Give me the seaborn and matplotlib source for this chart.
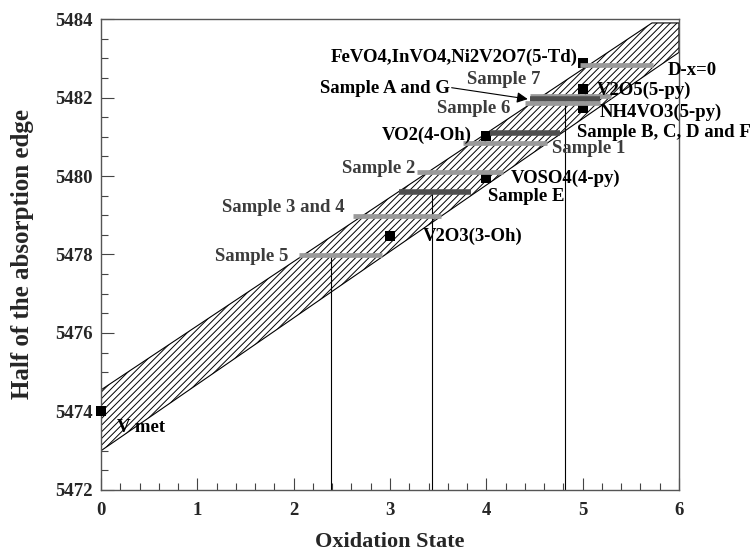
import matplotlib
matplotlib.use("Agg")
import matplotlib.pyplot as plt
import seaborn as sns
import pandas as pd

# ---------------- data ----------------
# hatched correlation band (oxidation state vs edge position)
band_x = [0.0, 5.72, 6.0]
band_upper = [5474.55, 5483.9, 5483.9]
band_lower = [5473.0, 5482.68, 5483.15]

# reference compounds (black squares)
ref_names = ["V met", "V2O3(3-Oh)", "VO2(4-Oh)", "VOSO4(4-py)",
             "FeVO4,InVO4,Ni2V2O7(5-Td)", "V2O5(5-py)", "NH4VO3(5-py)"]
ref_x = [0.0, 3.0, 4.0, 4.0, 5.0, 5.0, 5.0]
ref_y = [5474.0, 5478.47, 5481.02, 5479.95, 5482.88, 5482.22, 5481.74]

# sample bars (horizontal)
bar_names = ["D-x=0", "Sample 7", "Sample A and G", "Sample 6",
             "Sample B, C, D and F", "Sample 1", "Sample 2", "Sample E",
             "Sample 3 and 4", "Sample 5"]
bar_y = [5482.82, 5482.05, 5481.96, 5481.86, 5481.10, 5480.84,
         5480.10, 5479.59, 5478.98, 5477.99]
bar_xmin = [4.97, 4.45, 4.45, 4.40, 4.04, 3.76, 3.28, 3.09, 2.62, 2.06]
bar_xmax = [5.73, 5.29, 5.18, 5.18, 4.77, 4.63, 4.17, 3.84, 3.53, 2.92]
bar_kind = ["light", "light", "dark", "light", "dark", "light", "light",
            "dark", "light", "light"]

# vertical drop lines (oxidation state read-outs)
drop_x = [2.39, 3.44, 4.82]
drop_top = [5477.99, 5479.59, 5481.86]

x_ticks = [0, 1, 2, 3, 4, 5, 6]
y_ticks = [5472, 5474, 5476, 5478, 5480, 5482, 5484]

# ---------------- style ----------------
sns.set_theme(style="ticks")
plt.rcParams["font.family"] = ["Liberation Serif", "DejaVu Serif"]
plt.rcParams["font.weight"] = "bold"
plt.rcParams["hatch.linewidth"] = 0.7
plt.rcParams["hatch.color"] = "black"

fig = plt.figure(figsize=(7.54, 5.53), dpi=100)
ax = fig.add_axes([0.134, 0.114, 0.7665, 0.8516])

ax.fill_between(band_x, band_lower, band_upper, facecolor="white",
                edgecolor="black", hatch="/////", linewidth=0.8, zorder=1)

for x, top in zip(drop_x, drop_top):
    ax.plot([x, x], [5472, top], color="black", lw=0.8, zorder=2)

refs = pd.DataFrame({"name": ref_names, "x": ref_x, "y": ref_y})
sns.scatterplot(data=refs, x="x", y="y", marker="s", s=55, color="black",
                edgecolor="black", linewidth=0, ax=ax, zorder=3, clip_on=False)

col = {"light": "#9a9a9a", "dark": "#4f4f4f"}
lw = {"light": 3.4, "dark": 4.0}
for y, x0, x1, k in zip(bar_y, bar_xmin, bar_xmax, bar_kind):
    ax.plot([x0, x1], [y, y], color=col[k], lw=lw[k], solid_capstyle="butt",
            zorder=4)

fs = 13.5
gray = "#3c3c3c"
labels = [
    ("FeVO4,InVO4,Ni2V2O7(5-Td)", 4.95, 5483.03, "right", "black"),
    ("D-x=0", 5.88, 5482.70, "left", "black"),
    ("Sample A and G", 3.62, 5482.24, "right", "black"),
    ("Sample 7", 4.18, 5482.45, "center", gray),
    ("V2O5(5-py)", 5.15, 5482.19, "left", "black"),
    ("Sample 6", 4.25, 5481.73, "right", gray),
    ("NH4VO3(5-py)", 5.18, 5481.63, "left", "black"),
    ("VO2(4-Oh)", 3.85, 5481.04, "right", "black"),
    ("Sample B, C, D and F", 4.94, 5481.12, "left", "black"),
    ("Sample 1", 4.68, 5480.70, "left", gray),
    ("Sample 2", 3.26, 5480.20, "right", gray),
    ("VOSO4(4-py)", 4.25, 5479.95, "left", "black"),
    ("Sample E", 4.02, 5479.47, "left", "black"),
    ("Sample 3 and 4", 2.53, 5479.21, "right", gray),
    ("V2O3(3-Oh)", 3.34, 5478.45, "left", "black"),
    ("Sample 5", 1.95, 5477.94, "right", gray),
    ("V met", 0.17, 5473.58, "left", "black"),
]
for t, x, y, ha, c in labels:
    ax.text(x, y, t, ha=ha, va="center", fontsize=fs, fontweight="bold",
            color=c, zorder=5, clip_on=False)

ax.annotate("", xy=(4.43, 5481.96), xytext=(3.64, 5482.25),
            arrowprops=dict(arrowstyle="-|>", color="black", lw=0.8,
                            mutation_scale=16, shrinkA=0, shrinkB=0),
            zorder=5)

ax.set_xlim(0, 6)
ax.set_ylim(5472, 5484)
ax.set_xticks(x_ticks)
ax.set_yticks(y_ticks)
ax.set_xticks([i * 0.2 for i in range(31)], minor=True)
ax.set_yticks([5472 + i * 0.5 for i in range(25)], minor=True)
ax.tick_params(which="both", direction="in", top=False, right=False,
               color="#444444", width=0.8)
ax.tick_params(which="major", length=9, labelsize=13.5)
ax.tick_params(axis="y", which="major", pad=6)
ax.tick_params(axis="x", which="major", pad=9)
ax.tick_params(which="minor", length=5)
for lab in ax.get_xticklabels() + ax.get_yticklabels():
    lab.set_fontweight("bold")

for s in ax.spines.values():
    s.set_color("#555555")
    s.set_linewidth(1.0)

ax.set_xlabel("Oxidation State", fontsize=16, fontweight="bold", labelpad=9)
ax.set_ylabel("Half of the absorption edge", fontsize=18, fontweight="bold",
              labelpad=15)

fig.savefig("out.png", dpi=100)
